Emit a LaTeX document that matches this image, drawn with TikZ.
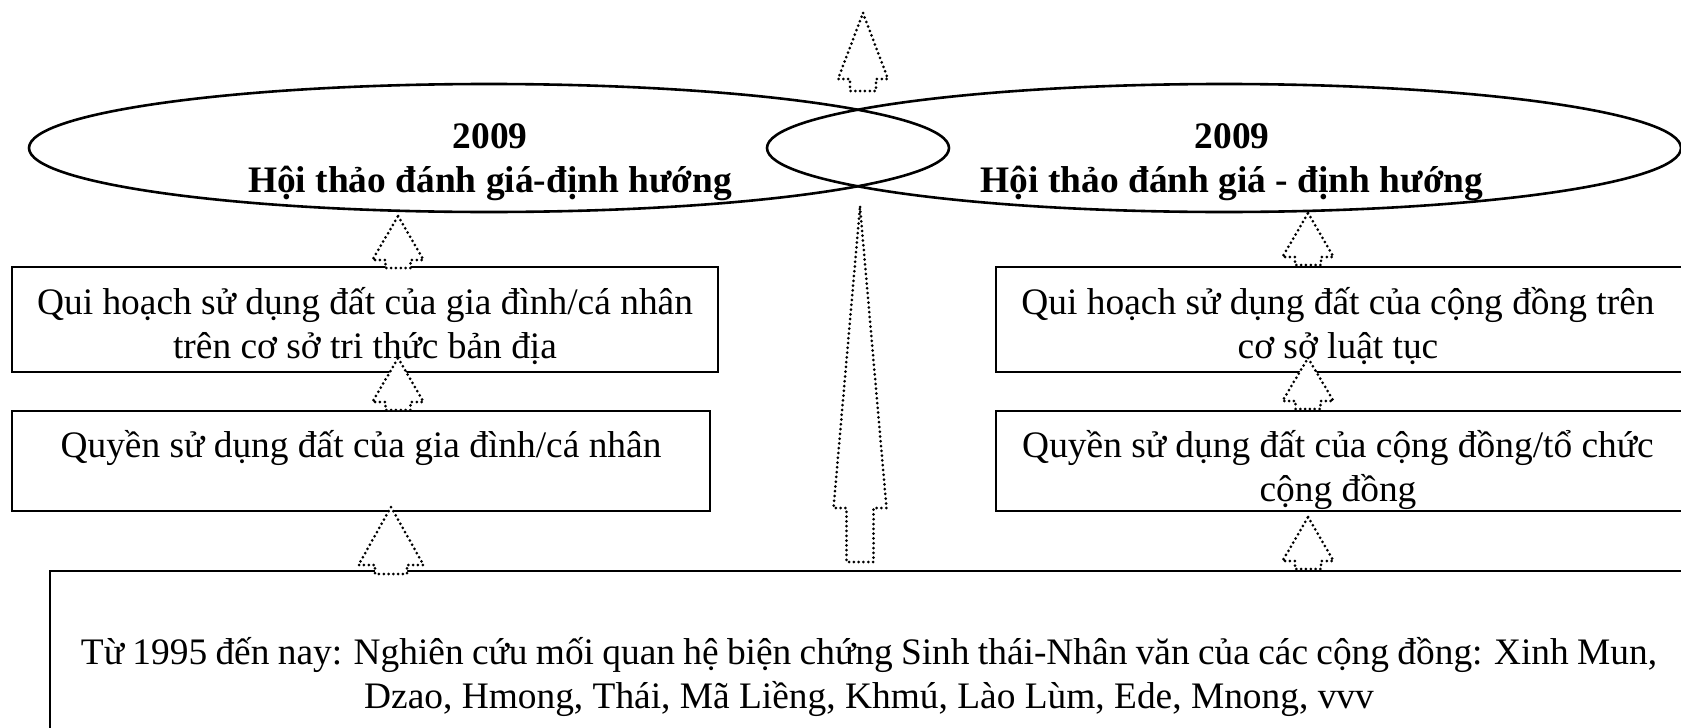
\documentclass[tikz,border=0pt]{standalone}
\usepackage{fontspec}
\setmainfont{Liberation Serif}
\usetikzlibrary{shapes.geometric}
\newcommand\bigfs{\fontsize{37.4}{44}\selectfont}
\newcommand\blockup[6]{% cx, tip y, head base y, half head, half shaft, bottom y
  \draw[darr] (#1,#2) -- ({#1+#4},#3) -- ({#1+#5},#3) -- ({#1+#5},#6)
    -- ({#1-#5},#6) -- ({#1-#5},#3) -- ({#1-#4},#3) -- cycle;}
\begin{document}
\begin{tikzpicture}[x=1pt,y=-1pt,
  frame/.style={draw, line width=2.6pt, rectangle, inner sep=0pt},
  ell/.style={draw, ellipse, line width=2.6pt, inner sep=0pt},
  txt/.style={anchor=base, inner sep=0pt, font=\bigfs},
  btxt/.style={anchor=base, inner sep=0pt, font=\bigfs\bfseries},
  darr/.style={draw, fill=white, line width=3pt, line cap=round, line join=round, dash pattern=on 0pt off 4.8pt}]
\useasboundingbox (0,0) rectangle (1681,728);
\clip (0,0) rectangle (1681,728);
% ellipses
\node[ell, minimum width=920, minimum height=128] (e1) at (489,148) {};
\node[ell, minimum width=914, minimum height=128] (e2) at (1224,148) {};
\node[btxt] (e1t) at (490,148) {\begin{tabular}[t]{@{}c@{}}2009\\Hội thảo đánh giá-định hướng\end{tabular}};
\node[btxt] (e2t) at (1232,148) {\begin{tabular}[t]{@{}c@{}}2009\\Hội thảo đánh giá - định hướng\end{tabular}};
% boxes
\node[frame, minimum width=706, minimum height=105] (b1) at (365,319.5) {};
\node[frame, minimum width=698, minimum height=100] (b2) at (361,461) {};
\node[frame, minimum width=694, minimum height=105] (b3) at (1343,319.5) {};
\node[frame, minimum width=694, minimum height=100] (b4) at (1343,461) {};
\node[frame, minimum width=1640, minimum height=169] (b5) at (870,655.5) {};
\node[txt] (b1t) at (365,314) {\begin{tabular}[t]{@{}c@{}}Qui hoạch sử dụng đất của gia đình/cá nhân\\trên cơ sở tri thức bản địa\end{tabular}};
\node[txt] (b2t) at (361,457) {Quyền sử dụng đất của gia đình/cá nhân};
\node[txt] (b3t) at (1338,314) {\begin{tabular}[t]{@{}c@{}}Qui hoạch sử dụng đất của cộng đồng trên\\cơ sở luật tục\end{tabular}};
\node[txt] (b4t) at (1338,457) {\begin{tabular}[t]{@{}c@{}}Quyền sử dụng đất của cộng đồng/tổ chức\\cộng đồng\end{tabular}};
\node[txt] (b5t) at (869,664) {\begin{tabular}[t]{@{}c@{}}\spaceskip=0.222em Từ 1995 đến nay: Nghiên cứu mối quan hệ biện chứng Sinh thái-Nhân văn của các cộng đồng: Xinh Mun,\\Dzao, Hmong, Thái, Mã Liềng, Khmú, Lào Lùm, Ede, Mnong, vvv\end{tabular}};
% block arrows
\blockup{863}{13}{79}{25}{13}{91}
\blockup{398}{216}{260}{25.5}{12.5}{268}
\blockup{398}{358}{402}{25.5}{12.5}{410}
\blockup{391}{507}{565}{32.5}{16}{574}
\blockup{860}{207}{508}{26.5}{13.5}{562}
\blockup{1308}{213}{257}{25.5}{13}{265}
\blockup{1308}{358}{401}{25.5}{12.5}{409}
\blockup{1308}{517}{561}{25.5}{13}{569}
\end{tikzpicture}
\end{document}
